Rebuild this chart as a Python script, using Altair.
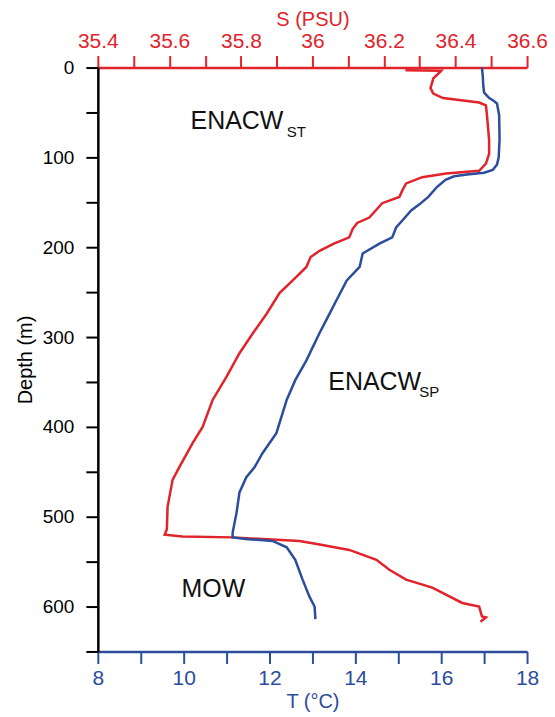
import altair as alt
import pandas as pd

RED = "#e1232b"
BLUE = "#2c4c9c"

# Temperature profile (depth m, T °C)
t_depth = [0, 10, 20, 28, 34, 37, 40, 53, 80, 100, 108, 114, 117, 119, 121, 125, 133, 144, 152, 159,
           170, 178, 189, 196, 207, 222, 237, 259, 274, 296, 326, 348, 370, 407, 429, 445, 456, 473,
           496, 518, 523, 525, 527, 534, 548, 570, 589, 600, 614]
t_vals = [16.95, 16.97, 16.98, 17.0, 17.12, 17.22, 17.3, 17.35, 17.36, 17.34, 17.3, 17.2, 17.0, 16.6,
          16.3, 16.1, 15.9, 15.7, 15.5, 15.3, 15.1, 14.95, 14.86, 14.56, 14.17, 14.1, 13.8, 13.56,
          13.4, 13.16, 12.86, 12.6, 12.4, 12.16, 11.84, 11.65, 11.46, 11.3, 11.23, 11.14, 11.14, 11.5,
          12.07, 12.4, 12.6, 12.77, 12.93, 13.05, 13.07]

# Salinity profile (depth m, S PSU)
s_depth = [3, 3.5, 5.5, 12, 23, 29, 34, 39, 42, 53, 81, 96, 107, 115, 118, 122, 129, 137, 144, 151,
           160, 167, 173, 180, 189, 196, 204, 211, 222, 233, 251, 274, 296, 318, 344, 370, 400, 418,
           444, 459, 489, 514, 520, 522, 523, 527, 531, 537, 548, 559, 570, 579, 596, 600, 611, 612, 617]
s_vals = [36.26, 36.36, 36.355, 36.338, 36.33, 36.338, 36.365, 36.466, 36.485, 36.488, 36.494,
          36.494, 36.485, 36.466, 36.374, 36.307, 36.262, 36.251, 36.243, 36.195, 36.175, 36.159,
          36.125, 36.112, 36.103, 36.06, 36.02, 35.995, 35.983, 35.955, 35.908, 35.872, 35.833,
          35.796, 35.76, 35.721, 35.693, 35.665, 35.629, 35.609, 35.595, 35.593, 35.587, 35.637,
          35.777, 35.964, 36.02, 36.103, 36.179, 36.215, 36.262, 36.335, 36.419, 36.466, 36.474,
          36.485, 36.47]

# Water mass labels (placed in T / depth coordinates)
lab_text = ["ENACW", "ENACW", "MOW"]
lab_T = [10.16, 13.37, 9.95]
lab_depth = [68, 359, 589]
sub_text = ["ST", "SP"]
sub_T = [12.40, 15.49]
sub_depth = [77, 367]

y_ticks = list(range(0, 651, 50))
t_ticks = list(range(8, 19))
s_ticks = [35.4, 35.5, 35.6, 35.7, 35.8, 35.9, 36.0, 36.1, 36.2, 36.3, 36.4, 36.5, 36.6]

df_t = pd.DataFrame({"depth": t_depth, "T": t_vals, "i": range(len(t_vals))})
df_s = pd.DataFrame({"depth": s_depth, "S": s_vals, "i": range(len(s_vals))})
df_lab = pd.DataFrame({"T": lab_T, "depth": lab_depth, "txt": lab_text})
df_sub = pd.DataFrame({"T": sub_T, "depth": sub_depth, "txt": sub_text})

FONT = "Liberation Sans"

y_scale = alt.Scale(domain=[0, 650], reverse=True, nice=False, zero=False)
y_axis = alt.Axis(
    values=y_ticks, labelExpr="datum.value % 100 == 0 ? datum.label : ''",
    title="Depth (m)", titleFontSize=20, titleFontWeight="normal", titleColor="black",
    titlePadding=7, labelFontSize=19, labelColor="black", labelPadding=12,
    domainColor="black", domainWidth=2.5, tickColor="black", tickWidth=2, tickSize=12,
    grid=False, labelOverlap=False, labelFont=FONT, titleFont=FONT,
)
y_enc = alt.Y("depth:Q", scale=y_scale, axis=y_axis)

sal = alt.Chart(df_s).mark_line(color=RED, strokeWidth=2.5).encode(
    x=alt.X("S:Q", scale=alt.Scale(domain=[35.4, 36.6], nice=False, zero=False),
            axis=alt.Axis(
                orient="top", values=s_ticks,
                labelExpr="round(datum.value*10) % 2 == 0 ? format(datum.value, '~g') : ''",
                title="S (PSU)", titleFontSize=20, titleFontWeight="normal", titleColor=RED,
                titlePadding=1, labelFontSize=21, labelColor=RED, labelPadding=4,
                domainColor=RED, domainWidth=2.5, tickColor=RED, tickWidth=2, tickSize=12,
                grid=False, labelOverlap=False, labelFlush=False, labelFont=FONT, titleFont=FONT)),
    y=y_enc,
    order="i:Q",
)

temp = alt.Chart(df_t).mark_line(color=BLUE, strokeWidth=2.5).encode(
    x=alt.X("T:Q", scale=alt.Scale(domain=[8, 18], nice=False, zero=False),
            axis=alt.Axis(
                orient="bottom", values=t_ticks,
                labelExpr="datum.value % 2 == 0 ? datum.label : ''",
                title="T (°C)", titleFontSize=20, titleFontWeight="normal", titleColor=BLUE,
                titlePadding=3, labelFontSize=21, labelColor=BLUE, labelPadding=4,
                domainColor=BLUE, domainWidth=2.5, tickColor=BLUE, tickWidth=2, tickSize=12,
                grid=False, labelOverlap=False, labelFlush=False, labelFont=FONT, titleFont=FONT)),
    y=y_enc,
    order="i:Q",
)

labels = alt.Chart(df_lab).mark_text(
    align="left", baseline="alphabetic", fontSize=25, font=FONT, color="#111"
).encode(
    x=alt.X("T:Q", scale=alt.Scale(domain=[8, 18], nice=False, zero=False), axis=None),
    y=y_enc,
    text="txt:N",
)

subs = alt.Chart(df_sub).mark_text(
    align="left", baseline="alphabetic", fontSize=15, font=FONT, color="#111"
).encode(
    x=alt.X("T:Q", scale=alt.Scale(domain=[8, 18], nice=False, zero=False), axis=None),
    y=y_enc,
    text="txt:N",
)

chart = alt.layer(sal, temp, labels, subs).resolve_scale(x="independent").properties(
    width=430, height=585,
    autosize=alt.AutoSizeParams(type="none"),
    padding={"left": 90, "top": 59, "right": 20, "bottom": 63},
).configure(background="white").configure_view(stroke=None)

chart.save("out.html", embed_options={"renderer": "svg", "actions": False})
